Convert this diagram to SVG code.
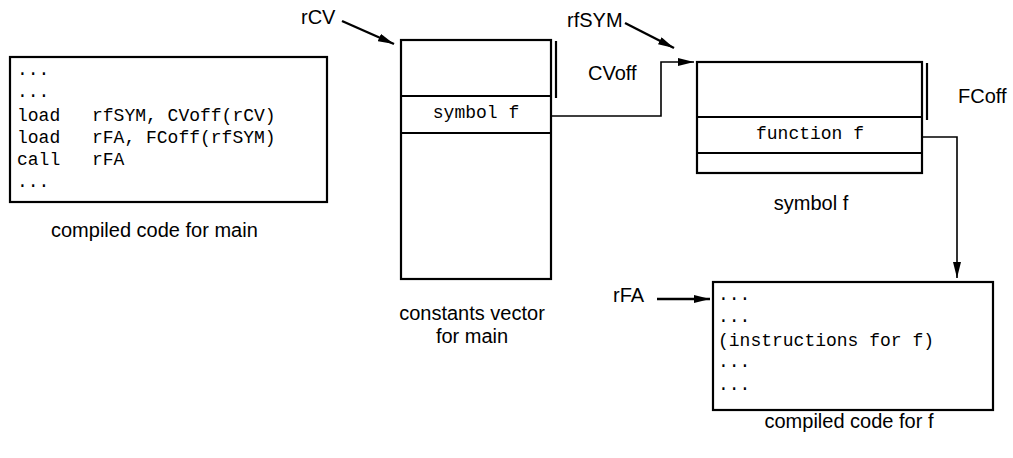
<svg xmlns="http://www.w3.org/2000/svg" width="1013" height="458" viewBox="0 0 1013 458">
<style>
.box{fill:#fff;stroke:#000;stroke-width:2.2}
.div{stroke:#000;stroke-width:2.2;fill:none}
.con{stroke:#000;stroke-width:1.6;fill:none}
.ptr{stroke:#000;stroke-width:2.4;fill:none}
.mono{font-family:"Liberation Mono","Courier New",monospace;font-size:18px;fill:#000}
.lbl{font-family:"Liberation Sans",Arial,sans-serif;font-size:20px;fill:#000}
</style>
<defs>
<marker id="ah" viewBox="0 0 16 8" refX="16" refY="4" markerWidth="16" markerHeight="8" markerUnits="userSpaceOnUse" orient="auto">
<path d="M0,0 L16,4 L0,8 z" fill="#000"/>
</marker>
</defs>
<rect width="1013" height="458" fill="#fff"/>

<g id="main-code">
<rect class="box" x="10" y="57" width="317" height="145"/>
<text class="mono" x="17" y="75">...</text>
<text class="mono" x="17" y="97">...</text>
<text class="mono" x="17" y="121">load</text><text class="mono" x="92" y="121">rfSYM, CVoff(rCV)</text>
<text class="mono" x="17" y="143">load</text><text class="mono" x="92" y="143">rFA, FCoff(rfSYM)</text>
<text class="mono" x="17" y="165">call</text><text class="mono" x="92" y="165">rFA</text>
<text class="mono" x="17" y="187">...</text>
<text class="lbl" x="51" y="237" font-size="21">compiled code for main</text>
</g>

<g id="constants-vector">
<rect class="box" x="401" y="40" width="150" height="239"/>
<line class="div" x1="401" y1="96" x2="551" y2="96"/>
<line class="div" x1="401" y1="133" x2="551" y2="133"/>
<line class="div" x1="556" y1="41" x2="556" y2="98"/>
<text class="mono" x="476" y="118" text-anchor="middle">symbol f</text>
<text class="lbl" x="472" y="320" text-anchor="middle">constants vector</text>
<text class="lbl" x="472" y="343" text-anchor="middle">for main</text>
</g>

<g id="symbol-f">
<rect class="box" x="697" y="62" width="225" height="111"/>
<line class="div" x1="697" y1="117" x2="922" y2="117"/>
<line class="div" x1="697" y1="153" x2="922" y2="153"/>
<line class="div" x1="927" y1="63" x2="927" y2="120"/>
<text class="mono" x="810" y="139" text-anchor="middle">function f</text>
<text class="lbl" x="811" y="210" text-anchor="middle">symbol f</text>
</g>

<g id="code-f">
<rect class="box" x="713" y="282" width="280" height="128"/>
<text class="mono" x="718" y="300">...</text>
<text class="mono" x="718" y="322">...</text>
<text class="mono" x="718" y="346">(instructions for f)</text>
<text class="mono" x="718" y="367">...</text>
<text class="mono" x="718" y="390">...</text>
<text class="lbl" x="849" y="428" text-anchor="middle">compiled code for f</text>
</g>

<g id="labels">
<text class="lbl" x="301" y="24" font-size="19">rCV</text>
<text class="lbl" x="567" y="27">rfSYM</text>
<text class="lbl" x="588" y="80">CVoff</text>
<text class="lbl" x="958" y="103">FCoff</text>
<text class="lbl" x="613" y="302">rFA</text>
</g>

<g id="connectors">
<line class="ptr" x1="342" y1="21" x2="394" y2="44" marker-end="url(#ah)"/>
<line class="ptr" x1="625" y1="23" x2="674" y2="48" marker-end="url(#ah)"/>
<line class="ptr" x1="657" y1="299" x2="710" y2="299" marker-end="url(#ah)"/>
<polyline class="con" points="551,116 661,116 661,62 694,62" marker-end="url(#ah)"/>
<polyline class="con" points="922,137 957,137 957,278" marker-end="url(#ah)"/>
</g>
</svg>
